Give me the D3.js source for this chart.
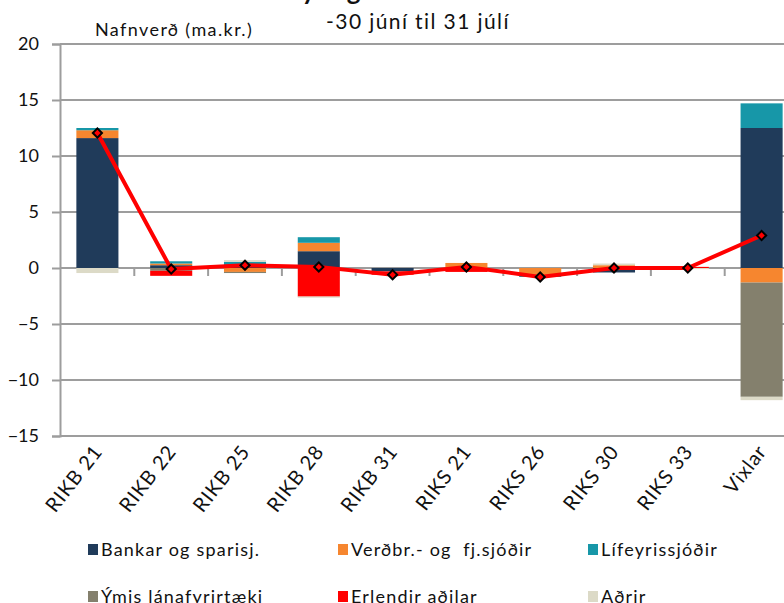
<!DOCTYPE html>
<html>
<head>
<meta charset="utf-8">
<script src="https://cdn.jsdelivr.net/npm/d3@7"></script>
<style>
  html, body { margin: 0; padding: 0; background: #fff; }
  svg { display: block; font-family: Lato, "Open Sans", sans-serif; }
</style>
</head>
<body>
<svg id="chart" width="784" height="603"></svg>
<script>
// Categories (bond series and bills)
const categories = ["RIKB 21", "RIKB 22", "RIKB 25", "RIKB 28", "RIKB 31",
                    "RIKS 21", "RIKS 26", "RIKS 30", "RIKS 33", "Vixlar"];

// Change in holdings by holder group, ma.kr.
const bankar   = [11.6, 0.25, 0.15, 1.5, -0.3, 0, 0, -0.4, 0, 12.5];
const verdbr   = [0.7, 0.15, -0.35, 0.75, 0, 0.45, -0.68, 0.25, 0, -1.3];
const lifeyris = [0.2, 0.2, 0.4, 0.5, 0, 0, -0.12, 0, 0, 2.2];
const ymis     = [0, -0.25, -0.1, 0, 0, 0, 0, 0, 0, -10.2];
const erlendir = [0, -0.45, 0, -2.55, -0.3, -0.35, 0, 0, 0.1, 0];
const adrir    = [-0.45, 0, 0.15, -0.1, 0, 0, 0, 0.15, -0.1, -0.3];

// Net change for each category (red line)
const samtals  = [12.05, -0.1, 0.25, 0.1, -0.6, 0.1, -0.8, 0, 0, 2.9];

const seriesNames  = ["Bankar og sparisj.", "Verðbr.- og  fj.sjóðir", "Lífeyrissjóðir",
                      "Ýmis lánafyrirtæki", "Erlendir aðilar", "Aðrir"];
const seriesValues = [bankar, verdbr, lifeyris, ymis, erlendir, adrir];
const seriesColors = ["#203b5a", "#f6862f", "#1797a8", "#84806d", "#ff0000", "#dcdac7"];

const yTicks = [-15, -10, -5, 0, 5, 10, 15, 20];

const svg = d3.select("#chart");
const gridColor = "#9d9d9d";
const textColor = "#111";

// Scales
const x = d3.scaleBand()
  .domain(categories)
  .range([60.5, 798.5])
  .paddingInner(0.43)
  .paddingOuter(0.215);
const y = d3.scaleLinear().domain([-15, 20]).range([436, 44]);

// Rows for stacking
const rows = categories.map((c, i) => {
  const r = { cat: c };
  seriesNames.forEach((s, j) => { r[s] = seriesValues[j][i]; });
  return r;
});
const stacked = d3.stack()
  .keys(seriesNames)
  .offset(d3.stackOffsetDiverging)(rows);

// Horizontal gridlines
svg.append("g")
  .selectAll("line")
  .data(yTicks)
  .join("line")
  .attr("x1", 60).attr("x2", 784)
  .attr("y1", d => y(d)).attr("y2", d => y(d))
  .attr("stroke", gridColor)
  .attr("stroke-width", 2);

// Stacked bars
svg.append("g")
  .selectAll("g")
  .data(stacked)
  .join("g")
  .attr("fill", (d, i) => seriesColors[i])
  .selectAll("rect")
  .data(d => d.filter(p => p[1] - p[0] !== 0))
  .join("rect")
  .attr("x", d => x(d.data.cat))
  .attr("width", x.bandwidth())
  .attr("y", d => y(Math.max(d[0], d[1])))
  .attr("height", d => Math.abs(y(d[0]) - y(d[1])));

// Value axis on the left
const yAxis = svg.append("g")
  .attr("transform", "translate(60,0)")
  .call(d3.axisLeft(y).tickValues(yTicks).tickSize(8).tickPadding(13).tickFormat(d3.format("d")));
yAxis.select(".domain").attr("stroke", gridColor).attr("stroke-width", 2);
yAxis.selectAll(".tick line").attr("stroke", gridColor).attr("stroke-width", 2);
yAxis.selectAll(".tick text")
  .attr("font-size", 18)
  .attr("fill", textColor)
  .attr("font-family", "Lato, sans-serif");

// Category axis crossing at zero: tick marks between categories
const step = x.step();
const boundaries = categories.slice(0, -1).map(c => x(c) + x.bandwidth() + (step - x.bandwidth()) / 2);
svg.append("g")
  .selectAll("line")
  .data(boundaries)
  .join("line")
  .attr("x1", d => d).attr("x2", d => d)
  .attr("y1", y(0)).attr("y2", y(0) + 8)
  .attr("stroke", gridColor)
  .attr("stroke-width", 2);

// Category labels below the plot, rotated
svg.append("g")
  .selectAll("text")
  .data(categories)
  .join("text")
  .attr("transform", d => `translate(${x(d) + x.bandwidth() / 2 + 6},${y(-15) + 16}) rotate(-52)`)
  .attr("text-anchor", "end")
  .attr("font-size", 20)
  .attr("letter-spacing", 0.8)
  .attr("fill", textColor)
  .text(d => d);

// Net change line with diamond markers
const cx = c => x(c) + x.bandwidth() / 2;
svg.append("path")
  .datum(samtals)
  .attr("fill", "none")
  .attr("stroke", "#ff0000")
  .attr("stroke-width", 4)
  .attr("stroke-linejoin", "round")
  .attr("d", d3.line().x((d, i) => cx(categories[i])).y(d => y(d)));

svg.append("g")
  .selectAll("path")
  .data(samtals)
  .join("path")
  .attr("d", d3.symbol(d3.symbolSquare, 42))
  .attr("transform", (d, i) => `translate(${cx(categories[i])},${y(d)}) rotate(45)`)
  .attr("fill", "#ff0000")
  .attr("stroke", "#000")
  .attr("stroke-width", 2);

// Titles (main title sits mostly above the top edge)
svg.append("text")
  .attr("x", 262).attr("y", 0)
  .attr("font-size", 26)
  .attr("font-weight", "bold")
  .attr("fill", textColor)
  .text("Breyting á stöðu ríkisbréfa");
svg.append("text")
  .attr("x", 418).attr("y", 29)
  .attr("text-anchor", "middle")
  .attr("font-size", 21)
  .attr("letter-spacing", 1.4)
  .attr("fill", textColor)
  .text("-30 júní til 31 júlí");
svg.append("text")
  .attr("x", 95).attr("y", 36)
  .attr("font-size", 18)
  .attr("letter-spacing", 1.4)
  .attr("fill", textColor)
  .text("Nafnverð (ma.kr.)");

// Legend: two rows of three
const legendX = [88, 338, 588];
const legendY = [550, 597];
const legend = svg.append("g")
  .selectAll("g")
  .data(seriesNames)
  .join("g")
  .attr("transform", (d, i) => `translate(${legendX[i % 3]},${legendY[Math.floor(i / 3)]})`);
legend.append("rect")
  .attr("x", 0).attr("y", -6)
  .attr("width", 10).attr("height", 11)
  .attr("fill", (d, i) => seriesColors[i]);
legend.append("text")
  .attr("x", 13).attr("y", 6)
  .attr("font-size", 18)
  .attr("letter-spacing", 1.2)
  .attr("fill", textColor)
  .style("white-space", "pre")
  .text(d => d);
</script>
</body>
</html>
